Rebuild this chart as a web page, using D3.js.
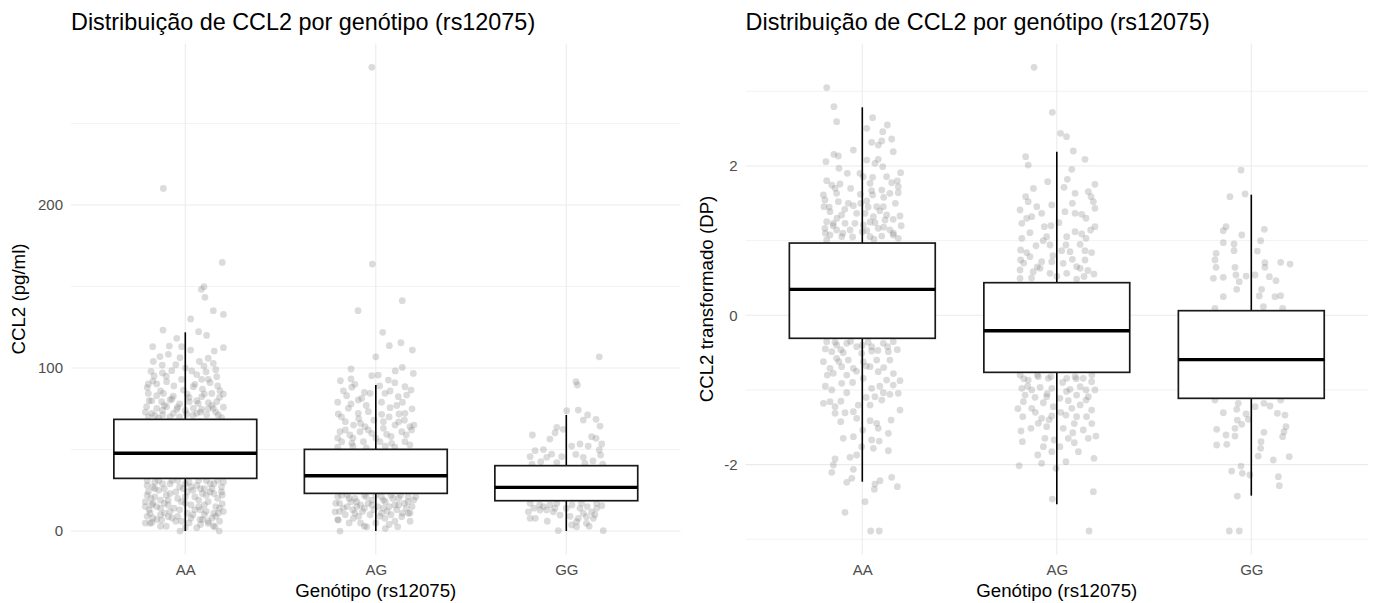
<!DOCTYPE html>
<html>
<head>
<meta charset="utf-8">
<script src="https://cdn.jsdelivr.net/npm/d3@7/dist/d3.min.js"></script>
<style>
  body { margin: 0; background: #ffffff; }
  svg text { font-family: "Liberation Sans", Arial, sans-serif; }
</style>
</head>
<body>
<svg id="chart" width="1374" height="603"></svg>
<script>
// ---- Data -------------------------------------------------------------
const genotypes = ["AA", "AG", "GG"];

// Box statistics, CCL2 in pg/ml
const rawLow    = [0, 0, 0];
const rawQ1     = [32.3, 23.1, 18.6];
const rawMedian = [47.7, 33.9, 26.8];
const rawQ3     = [68.5, 50.1, 40.1];
const rawHigh   = [121.9, 89.6, 71.2];

// Box statistics, transformed CCL2 (SD units)
const zLow    = [-2.229, -2.53, -2.416];
const zQ1     = [-0.308, -0.764, -1.112];
const zMedian = [0.348, -0.206, -0.594];
const zQ3     = [0.968, 0.437, 0.062];
const zHigh   = [2.786, 2.19, 1.616];

// Individual observations: [horizontal jitter (category units), value]
const rawAA = [
  [-0.115,210.2],[0.194,164.8],[0.084,148.3],[0.098,149.9],[0.103,143.4],[0.147,135.2],[0.2,132.9],
  [0.028,130.1],[-0.117,123.3],[0.07,122.3],[0.112,120],[-0.045,118.2],[-0.171,113.1],[-0.084,113.5],
  [-0.019,113.1],[0.028,111],[0.152,110.4],[0.2,112.5],[-0.133,107],[-0.089,108.4],[-0.168,104],
  [-0.121,101.8],[-0.028,106.3],[0.074,104],[0.098,101.2],[0.147,102.9],[-0.071,98.4],[0.034,98.2],
  [0.109,97.7],[-0.164,95.1],[-0.098,91.6],[0.086,93.1],[0.121,93.1],[0.165,94.7],[-0.194,90.2],
  [-0.15,90.2],[-0.01,86.5],[0.042,88.5],[0.182,86.1],[-0.194,84.4],[-0.115,84.4],[-0.063,82.8],
  [0.086,82.4],[0.139,84.4],[-0.176,79.9],[-0.124,79.3],[-0.08,80.4],[0.021,79.3],[0.068,78.3],
  [0.121,78.7],[0.165,79.3],[-0.203,76.3],[-0.15,75.3],[-0.098,76.3],[-0.045,74.7],[0.042,75.3],
  [0.086,74.7],[0.147,75.3],[-0.176,72.2],[-0.119,71.2],[-0.063,72.2],[0.007,71.8],[0.06,72.2],
  [0.112,71.2],[0.173,71.2],[-0.194,70],[-0.03,70],[-0.14,69.2],[0.19,69.5],
  [-0.2,88],[-0.17,92],[-0.13,86],[-0.1,95],[-0.06,89],[-0.02,93],[0.01,84],[0.05,90],[0.09,87],
  [0.13,91],[0.17,89],[0.2,84],[-0.19,80],[-0.15,83],[-0.11,77],[-0.07,81],[-0.03,78],[0.02,82],
  [0.06,80],[0.1,84],[0.14,77],[0.18,82],[-0.21,73],[-0.16,71],[-0.12,74],[-0.08,70],[-0.04,76],
  [0,74],[0.04,71],[0.08,73],[0.12,75],[0.16,73],[0.2,76],[-0.18,98],[-0.12,97],[0,100],[0.06,96],
  [0.16,99],[-0.05,102],[0.12,106],
  [-0.028,0],[0.178,0],[-0.185,4.7],[0.121,4.7],[0.156,2.6],[-0.124,6.7],[-0.21,4.9],[-0.176,5.3],
  [-0.089,8.8],[0.147,3.1],[0.077,7.2],[0.173,10.9],[0.194,16.6],[0.194,22.1],[-0.185,10.9],
  [-0.176,16],[-0.194,24.1],
  [-0.2,28],[-0.16,30],[-0.12,29],[-0.07,31],[-0.03,27],[0.02,30],[0.06,28],[0.11,31],[0.15,29],[0.19,27],
  [-0.18,20],[-0.14,25],[-0.1,22],[-0.05,24],[0,21],[0.04,25],[0.09,23],[0.13,24],[0.17,20],[-0.21,18],
  [-0.15,15],[-0.11,17],[-0.06,14],[-0.02,18],[0.03,16],[0.08,13],[0.12,18],[0.16,15],[0.2,12],[-0.19,13],
  [-0.13,10],[-0.08,12],[-0.04,9],[0.01,11],[0.05,13],[0.1,10],[0.14,8],[-0.17,8],[-0.1,3],[-0.05,6],
  [0.02,5],[0.06,2],[0.09,7],[0.18,6],[-0.09,19],[0.07,19],[-0.01,26],[0.14,26],[-0.16,26],[0.1,16],
  [-0.2,31],[-0.17,27],[-0.14,31],[-0.11,26],[-0.08,29],[-0.04,31],[0,29],[0.03,27],[0.07,31],[0.1,26],
  [0.13,29],[0.17,31],[0.2,30],[-0.2,22],[-0.16,21],[-0.13,19],[-0.08,23],[-0.04,20],[0.01,24],[0.05,21],
  [0.08,26],[0.11,22],[0.15,23],[0.19,24],[-0.21,15],[-0.17,17],[-0.13,14],[-0.09,16],[-0.03,13],[0,17],
  [0.04,10],[0.07,15],[0.11,12],[0.15,11],[0.18,14],[-0.2,9],[-0.15,7],[-0.11,11],[-0.07,8],[-0.02,6],
  [0.03,8],[0.08,4],[0.12,6],[0.16,9],[-0.13,3],[0,2]
];
const rawAG = [
  [-0.021,284.5],[-0.018,163.8],[0.139,141.3],[-0.093,135.2],[0.036,121.9],[0.071,113.7],[0.132,115.5],
  [0.192,111],[0,106.9],[0.139,100.4],[-0.13,99.4],[0.102,98.2],[0.197,96.7],[-0.021,95.3],[0.013,95.7],
  [-0.186,92.2],[-0.13,93.3],[-0.126,88.2],[0.066,92.6],[0.153,88.5],[0.185,86.5],[-0.153,83],
  [-0.092,80.4],[-0.074,81.4],[-0.03,84.5],[0.048,84.5],[0.075,85.9],[0.118,82.4],[0.162,83.4],
  [-0.197,71.8],[-0.144,75.3],[-0.092,72.2],[-0.039,73.2],[0.031,71.6],[0.075,75.7],[0.122,71.8],
  [0.153,72.2],[-0.16,67.1],[-0.117,65],[-0.057,64],[0.04,67.1],[0.101,65],[0.179,64],[-0.188,60.9],
  [-0.136,58.9],[-0.083,60.9],[-0.021,59.9],[0.057,59.3],[0.136,60.9],[0.188,62],[-0.179,54.8],
  [-0.126,53.8],[-0.065,54.8],[0.022,54.8],[0.083,53.8],[0.153,54.8],[0.179,52.8],[-0.2,51.5],[-0.05,51],[0.1,51.5],
  [-0.2,57],[-0.16,62],[-0.12,57],[-0.08,66],[-0.04,62],[0,57],[0.04,63],[0.08,58],[0.12,67],[0.16,59],
  [0.2,65],[-0.18,70],[-0.13,78],[-0.09,69],[-0.05,77],[-0.01,68],[0.03,79],[0.07,70],[0.11,77],[0.15,68],
  [0.19,75],[-0.17,86],[-0.11,90],[-0.06,85],[0.02,89],[0.1,91],[0.14,79],[-0.2,79],[0.05,52],[-0.12,52],
  [-0.188,0],[0.115,2.6],[0.048,7.8],[-0.048,2.6],[-0.118,7.8],[-0.197,6.7],[0.136,8.8],[0.171,10.9],[-0.214,11.8],
  [-0.2,21],[-0.15,22],[-0.11,20],[-0.06,22],[-0.02,19],[0.03,21],[0.08,22],[0.12,20],[0.17,21],[0.2,19],
  [-0.19,17],[-0.13,18],[-0.08,16],[-0.04,17],[0.01,15],[0.05,18],[0.1,16],[0.15,17],[0.19,15],[-0.17,14],
  [-0.12,13],[-0.07,12],[-0.01,13],[0.06,12],[0.11,13],[0.14,11],[-0.16,10],[-0.09,9],[-0.03,10],[0.02,9],
  [0.08,10],[-0.14,5],[0,5],[0.07,4],[0.18,6],[-0.06,3],[-0.1,15],[0.04,14],[0.16,14],
  [-0.21,17],[-0.18,22],[-0.14,20],[-0.1,18],[-0.05,21],[0,22],[0.04,19],[0.09,20],[0.13,22],[0.17,18],
  [0.21,21],[-0.19,12],[-0.15,15],[-0.11,11],[-0.06,14],[-0.02,16],[0.03,11],[0.07,15],[0.12,16],[0.18,11],
  [-0.2,7],[-0.08,5],[0.1,6],[0.05,1.5]
];
const rawGG = [
  [0.173,106.9],[0.051,91.6],[0.058,89.6],[0.002,73.8],[0.063,74.2],[0.112,71.2],[0.089,68.1],
  [0.156,68.5],[0.177,64.4],[-0.05,63.6],[-0.016,62.4],[-0.059,60.3],[-0.178,58.9],[-0.086,56.4],
  [0.133,57.9],[0.156,56.9],[0.186,53.4],[0.028,52.1],[0.072,53.4],[0.115,52.1],[0.173,49.7],
  [-0.164,49.3],[-0.077,47.2],[0.18,46.6],[0.089,45.2],[-0.19,45.6],[-0.103,45.2],[-0.024,45.6],
  [-0.134,42.5],[0.191,41.1],[0.098,41.5],[-0.12,50],[-0.05,42],[0.05,47],[0.14,43],[-0.18,41],
  [-0.19,17],[-0.103,12.9],[-0.068,11.8],[-0.033,9.8],[-0.19,7.8],[-0.163,7.8],[-0.042,0.2],[0.194,0.2],
  [0.054,5.7],[0.063,7.8],[0.106,8.8],[0.089,10.9],[0.142,7.8],[0.133,11.8],[0.159,13.9],[0.186,15.5],
  [0.159,17],[0.072,13.9],[0.028,3.7],[-0.138,12.9],[-0.199,11.8],[-0.086,16],[-0.05,17],[0.106,4.7],
  [0.054,2.6],[-0.14,16],[0,14],[0.11,15],[-0.17,14],[0.12,3],[-0.12,15],[-0.06,14],[0.03,16],
  [0.08,17],[0.15,10],[-0.1,6],[0.02,9]
];

const zAA = [
  [-0.183,3.05],[-0.146,2.795],[-0.132,2.594],[0.053,2.647],[0.129,2.549],[0.023,2.505],[0.105,2.46],
  [0.151,2.362],[0.048,2.317],[0.1,2.335],[0.082,2.281],[-0.046,2.214],[0.159,2.192],[-0.146,2.157],
  [-0.123,2.134],[-0.187,2.058],[0.023,2.08],[0.082,2.09],[0.065,2.036],[0.105,1.991],[-0.12,1.969],
  [-0.077,1.902],[-0.012,1.902],[0.005,1.857],[0.053,1.849],[0.125,1.857],[0.197,1.91],[-0.183,1.803],
  [-0.157,1.745],[-0.115,1.759],[0.04,1.768],[0.151,1.776],[0.185,1.723],[-0.14,1.701],[0.048,1.669],
  [0.1,1.678],[-0.2,1.612],[-0.132,1.634],[0.053,1.612],[0.142,1.634],[0.185,1.642],[-0.192,1.545],
  [-0.123,1.522],[-0.072,1.5],[-0.046,1.468],[-0.008,1.5],[0.023,1.531],[0.074,1.455],[0.108,1.455],
  [-0.197,1.455],[-0.166,1.388],[-0.106,1.344],[-0.029,1.366],[0.014,1.366],[0.057,1.321],[0.125,1.344],
  [0.194,1.33],[-0.183,1.254],[-0.149,1.232],[-0.089,1.232],[-0.038,1.232],[0.005,1.21],[0.065,1.241],
  [0.117,1.277],[0.159,1.286],[-0.192,1.165],[-0.132,1.143],[-0.063,1.143],[0.023,1.134],[0.082,1.165],
  [0.142,1.143],[-0.166,1.076],[-0.106,1.053],[0.04,1.053],[0.1,1.062],[0.159,1.076],[0.185,1.031],
  [-0.183,1.009],
  [-0.19,1.1],[-0.15,1.2],[-0.1,1.1],[-0.05,1.05],[0,1.12],[0.06,1.02],[0.11,1.18],[0.16,1.1],[0.2,1.2],
  [-0.17,1.45],[-0.09,1.42],[0.03,1.45],[0.09,1.4],[0.17,1.5],[-0.13,1.3],[0.04,1.25],[-0.01,1.62],
  [0.11,1.58],[-0.06,1.7],[0.18,1.8],
  [-0.183,-0.353],[-0.132,-0.398],[-0.08,-0.375],[-0.029,-0.42],[0.048,-0.42],[0.108,-0.375],[0.159,-0.353],
  [-0.157,-0.487],[-0.098,-0.501],[-0.003,-0.509],[0.048,-0.478],[0.134,-0.487],[-0.2,-0.621],[-0.132,-0.576],
  [-0.072,-0.599],[0.005,-0.621],[0.074,-0.599],[0.142,-0.599],[-0.166,-0.71],[-0.106,-0.688],[-0.046,-0.71],
  [0.04,-0.688],[0.082,-0.755],[-0.149,-0.777],[-0.08,-0.8],[0.005,-0.844],[0.125,-0.867],[0.194,-0.876],
  [-0.106,-0.911],[0.048,-0.978],[0.159,-0.934],[-0.157,-1.0],[-0.08,-1.037],[0.108,-1.037],[0.142,-1.058],
  [0.185,-1.045],[0.065,-1.09],[-0.2,-1.179],[-0.166,-1.157],[-0.14,-1.224],[-0.021,-1.202],[0.04,-1.202],
  [0.1,-1.135],[0.194,-1.269],[-0.14,-1.313],[-0.089,-1.305],[-0.046,-1.291],[-0.029,-1.38],[-0.111,-1.425],
  [0.04,-1.412],[0.074,-1.447],[0.148,-1.403],[0.082,-1.514],[0.002,-1.537],[0.134,-1.581],[-0.098,-1.648],
  [-0.046,-1.626],[0.048,-1.67],[0.087,-1.684],[-0.003,-1.76],[0.057,-1.782],[0.134,-1.814],[-0.029,-1.871],
  [-0.063,-1.902],[-0.14,-1.925],[-0.149,-2.005],[-0.046,-2.063],[-0.157,-2.103],[0.091,-2.216],
  [0.151,-2.17],[-0.054,-2.184],[-0.08,-2.237],[0.065,-2.26],[0.18,-2.296],[0.062,-2.331],[0.014,-2.497],
  [-0.089,-2.639],[0.043,-2.889],[0.087,-2.889],
  [-0.19,-0.45],[-0.14,-0.36],[-0.11,-0.46],[-0.06,-0.35],[0,-0.4],[0.03,-0.36],[0.08,-0.47],[0.13,-0.42],
  [0.18,-0.46],[-0.18,-0.8],[-0.12,-0.62],[-0.03,-0.75],[0.02,-0.68],[0.11,-0.7],[0.16,-0.78],[-0.05,-0.9],
  [0.09,-0.95],[-0.19,-0.95],[0.02,-1.1],[-0.11,-1.15]
];
const zAG = [
  [-0.117,3.322],[-0.023,2.719],[0.019,2.438],[0.05,2.393],[0.085,2.201],[-0.16,2.125],[0.145,2.09],
  [-0.147,2.013],[0.077,1.956],[-0.047,1.79],[0.054,1.822],[0.196,1.755],[0.037,1.715],[0.162,1.656],
  [0.094,1.634],[0.176,1.589],[-0.16,1.589],[-0.147,1.522],[0.188,1.522],[-0.026,1.478],[-0.189,1.411],
  [-0.103,1.455],[-0.078,1.366],[0.196,1.433],[0.042,1.388],[0.094,1.366],[0.128,1.353],[-0.155,1.299],
  [-0.129,1.321],[-0.18,1.232],[0.011,1.241],[-0.064,1.187],[0.196,1.187],[0.174,1.143],[-0.138,1.107],
  [0.094,1.12],[0.128,1.089],[-0.18,1.031],[-0.052,1.053],[0.051,1.053],[0.15,1.031],[-0.107,0.932],
  [-0.035,0.942],[0.047,0.942],[-0.186,0.875],[-0.155,0.839],[0.025,0.866],[0.068,0.852],[0.145,0.866],
  [0.179,0.839],[-0.186,0.741],[-0.138,0.785],[-0.078,0.718],[-0.026,0.718],[0.033,0.697],[0.102,0.651],
  [0.145,0.741],[-0.189,0.607],[-0.121,0.584],[-0.086,0.63],[-0.035,0.563],[0.051,0.563],[0.12,0.63],
  [0.191,0.553],[-0.189,0.496],[0.102,0.486],
  [-0.17,0.7],[-0.1,0.65],[-0.02,0.8],[0.08,0.75],[0.16,0.6],[-0.13,0.5],[0,0.52],[0.14,0.52],
  [-0.07,1.0],[0.12,0.95],[-0.03,1.2],[0.08,1.5],[-0.12,1.7],[0.15,1.3],
  [-0.189,-0.8],[-0.147,-0.867],[-0.095,-0.822],[-0.044,-0.844],[0.051,-0.844],[0.094,-0.822],[0.136,-0.844],
  [0.179,-0.889],[-0.18,-0.978],[-0.129,-1.0],[-0.086,-0.965],[-0.026,-0.978],[0.068,-0.991],[0.12,-0.956],
  [0.196,-1.0],[-0.163,-1.068],[-0.112,-1.098],[-0.052,-1.09],[0.016,-1.112],[0.102,-1.068],[0.162,-1.09],
  [-0.172,-1.157],[-0.069,-1.171],[0.059,-1.144],[0.15,-1.135],[-0.129,-1.246],[-0.018,-1.224],[0.077,-1.246],
  [0.179,-1.269],[-0.175,-1.358],[-0.078,-1.38],[-0.026,-1.349],[0.047,-1.336],[0.102,-1.358],[0.153,-1.358],
  [-0.095,-1.447],[-0.052,-1.492],[0.033,-1.514],[0.082,-1.573],[0.136,-1.536],[-0.184,-1.55],[-0.133,-1.514],
  [-0.061,-1.648],[-0.014,-1.67],[0.059,-1.648],[0.162,-1.648],[0.201,-1.617],[-0.177,-1.693],[-0.069,-1.76],
  [0.016,-1.76],[0.09,-1.707],[0.111,-1.827],[-0.026,-1.827],[-0.098,-1.871],[0.191,-1.916],[0.047,-1.961],
  [-0.194,-2.015],[-0.078,-1.983],[-0.004,-2.05],[0.188,-2.363],[-0.023,-2.461],[0.166,-2.889],
  [-0.17,-0.85],[-0.1,-0.8],[-0.03,-0.82],[0.03,-0.9],[0.1,-0.85],[0.18,-0.8],[-0.15,-0.95],[-0.05,-1.05],
  [0.05,-1.02],[0.15,-1.0],[-0.11,-1.3],[0.02,-1.3],[0.12,-1.2],[-0.2,-1.25],[0.09,-1.45],[-0.04,-1.4],
  [0.18,-1.45]
];
const zGG = [
  [-0.053,1.946],[-0.11,1.589],[-0.032,1.625],[-0.13,1.187],[-0.144,1.134],[0.067,1.152],[-0.049,1.076],
  [0.048,0.999],[-0.144,0.973],[-0.089,0.955],[-0.089,0.866],[0.031,0.861],[-0.181,0.83],[-0.187,0.741],
  [0.07,0.705],[0.151,0.71],[0.199,0.687],[-0.181,0.643],[-0.084,0.643],[0.07,0.643],[-0.079,0.54],
  [-0.027,0.526],[0.019,0.54],[0.093,0.517],[-0.195,0.496],[-0.144,0.509],[0.127,0.464],[-0.062,0.45],
  [-0.075,0.348],[0.053,0.348],[0.122,0.249],[0.151,0.263],[-0.144,0.249],[0.041,0.259],[0.062,0.115],
  [0.161,0.094],[-0.187,0.094],
  [-0.187,-1.135],[-0.067,-1.179],[0.065,-1.179],[0.096,-1.215],[0.151,-1.135],[-0.075,-1.259],[0.019,-1.224],
  [-0.144,-1.305],[-0.027,-1.322],[0.134,-1.313],[0.173,-1.336],[-0.072,-1.403],[-0.015,-1.393],[-0.084,-1.514],
  [-0.049,-1.46],[0.178,-1.492],[-0.178,-1.527],[0.065,-1.567],[0.168,-1.559],[-0.13,-1.603],[0.161,-1.626],
  [-0.084,-1.617],[-0.178,-1.737],[-0.126,-1.728],[0.05,-1.693],[0.048,-1.782],[0.036,-1.885],[0.113,-1.938],
  [0.195,-1.894],[-0.053,-2.019],[-0.101,-2.086],[-0.046,-2.117],[-0.007,-2.139],[0.139,-2.162],
  [0.144,-2.282],[-0.072,-2.421],[-0.113,-2.889],[-0.062,-2.889]
];

// ---- Drawing ----------------------------------------------------------
const svg = d3.select("#chart");
const PANEL_TOP = 43.5, PANEL_BOTTOM = 554.5;
const FONT = '"Liberation Sans", Arial, sans-serif';

function drawPanel(p) {
  const g = svg.append("g");
  const x = d3.scalePoint().domain(genotypes).range([p.left, p.right]).padding(0.6);
  const step = x.step();
  const y = d3.scaleLinear().domain(p.yDomain).range([PANEL_BOTTOM, PANEL_TOP]);

  // grid
  const grid = g.append("g");
  grid.selectAll("line.minor").data(p.minorTicks).join("line")
    .attr("x1", p.left).attr("x2", p.right)
    .attr("y1", d => y(d)).attr("y2", d => y(d))
    .attr("stroke", "#efefef").attr("stroke-width", 0.8);
  grid.selectAll("line.major").data(p.majorTicks).join("line")
    .attr("x1", p.left).attr("x2", p.right)
    .attr("y1", d => y(d)).attr("y2", d => y(d))
    .attr("stroke", "#ebebeb").attr("stroke-width", 1.1);
  grid.selectAll("line.vert").data(genotypes).join("line")
    .attr("x1", d => x(d)).attr("x2", d => x(d))
    .attr("y1", PANEL_TOP).attr("y2", PANEL_BOTTOM)
    .attr("stroke", "#ebebeb").attr("stroke-width", 1.1);

  // jittered observations
  genotypes.forEach((gt, i) => {
    g.append("g").selectAll("circle").data(p.points[i]).join("circle")
      .attr("cx", d => x(gt) + d[0] * step)
      .attr("cy", d => y(d[1]))
      .attr("r", 3.4)
      .attr("fill", "#7f7f7f")
      .attr("fill-opacity", 0.28);
  });

  // boxplots
  const bw = 0.75 * step;
  genotypes.forEach((gt, i) => {
    const cx = x(gt);
    const b = g.append("g");
    b.append("line").attr("x1", cx).attr("x2", cx)
      .attr("y1", y(p.stats.q3[i])).attr("y2", y(p.stats.high[i]))
      .attr("stroke", "#000").attr("stroke-width", 1.6);
    b.append("line").attr("x1", cx).attr("x2", cx)
      .attr("y1", y(p.stats.q1[i])).attr("y2", y(p.stats.low[i]))
      .attr("stroke", "#000").attr("stroke-width", 1.6);
    b.append("rect")
      .attr("x", cx - bw / 2).attr("width", bw)
      .attr("y", y(p.stats.q3[i])).attr("height", y(p.stats.q1[i]) - y(p.stats.q3[i]))
      .attr("fill", "#fff").attr("stroke", "#1a1a1a").attr("stroke-width", 1.7);
    b.append("line").attr("x1", cx - bw / 2).attr("x2", cx + bw / 2)
      .attr("y1", y(p.stats.median[i])).attr("y2", y(p.stats.median[i]))
      .attr("stroke", "#000").attr("stroke-width", 3.4);
  });

  // axes (labels only, no lines)
  const yAxis = g.append("g").attr("transform", `translate(${p.left},0)`)
    .call(d3.axisLeft(y).tickValues(p.majorTicks).tickSize(0).tickPadding(8).tickFormat(d => String(d)));
  yAxis.select(".domain").remove();
  yAxis.selectAll("text").attr("fill", "#4d4d4d").style("font-size", "15px").style("font-family", FONT);

  const xAxis = g.append("g").attr("transform", `translate(0,${PANEL_BOTTOM})`)
    .call(d3.axisBottom(x).tickSize(0).tickPadding(10));
  xAxis.select(".domain").remove();
  xAxis.selectAll("text").attr("fill", "#4d4d4d").style("font-size", "15px").style("font-family", FONT);

  // titles
  g.append("text").attr("x", p.left).attr("y", 30)
    .style("font-size", "23.4px").attr("fill", "#000")
    .text(p.title);
  g.append("text").attr("x", (p.left + p.right) / 2).attr("y", 597)
    .attr("text-anchor", "middle").style("font-size", "18.7px").attr("fill", "#000")
    .text("Genótipo (rs12075)");
  g.append("text")
    .attr("transform", `translate(${p.yTitleX},${(PANEL_TOP + PANEL_BOTTOM) / 2}) rotate(-90)`)
    .attr("text-anchor", "middle").style("font-size", "18.7px").attr("fill", "#000")
    .text(p.yTitle);
}

drawPanel({
  left: 71, right: 680.6,
  yDomain: [-14.4, 299.1],
  majorTicks: [0, 100, 200], minorTicks: [50, 150, 250],
  points: [rawAA, rawAG, rawGG],
  stats: { low: rawLow, q1: rawQ1, median: rawMedian, q3: rawQ3, high: rawHigh },
  title: "Distribuição de CCL2 por genótipo (rs12075)",
  yTitle: "CCL2 (pg/ml)", yTitleX: 25
});

drawPanel({
  left: 745.6, right: 1368,
  yDomain: [-3.204, 3.641],
  majorTicks: [-2, 0, 2], minorTicks: [-3, -1, 1, 3],
  points: [zAA, zAG, zGG],
  stats: { low: zLow, q1: zQ1, median: zMedian, q3: zQ3, high: zHigh },
  title: "Distribuição de CCL2 por genótipo (rs12075)",
  yTitle: "CCL2 transformado (DP)", yTitleX: 713
});
</script>
</body>
</html>
